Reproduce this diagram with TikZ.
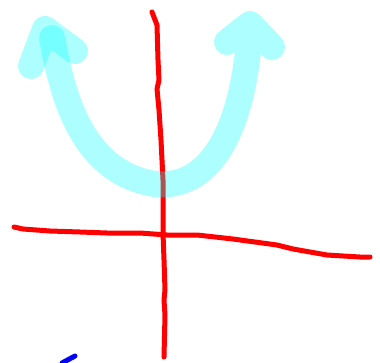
\documentclass[tikz,border=0pt]{standalone}
\begin{document}
\begin{tikzpicture}[x=1pt,y=-1pt,
  redink/.style={draw={rgb,255:red,255;green,0;blue,0},line width=5pt,line cap=round,line join=round},
  cyanink/.style={draw={rgb,255:red,0;green,255;blue,255},draw opacity=0.32,line width=26pt,line cap=round,line join=round},
  blueink/.style={draw={rgb,255:red,0;green,0;blue,255},line width=5pt,line cap=round}]
\useasboundingbox (0,0) rectangle (380,362);
\clip (0,0) rectangle (380,362);
% red vertical axis
\draw[redink] (152,12) -- (157,25) -- (158,60) -- (159,80) -- (157,89) -- (159,110) -- (161,140) -- (163,180) -- (163,233) -- (164,260) -- (165,290) -- (164,300) -- (165,315) -- (164,357);
% red horizontal axis
\draw[redink] (14,227) -- (23,229) -- (50,231) -- (80,232) -- (107,233) -- (140,233) -- (167,235) -- (197,235) -- (233,239) -- (277,245) -- (293,249) -- (327,255) -- (360,257) -- (370,257);
% cyan U-shaped double arrow
\draw[cyanink] (52,38) .. controls (62,92) and (80,172) .. (155,184)
  .. controls (215,190) and (245,120) .. (250,26)
  (227,42) -- (250,24) -- (272,47);
\draw[cyanink] (31,66) -- (45,29) -- (75,51);
% blue stroke
\draw[blueink] (62,363) -- (75,356);
\end{tikzpicture}
\end{document}
